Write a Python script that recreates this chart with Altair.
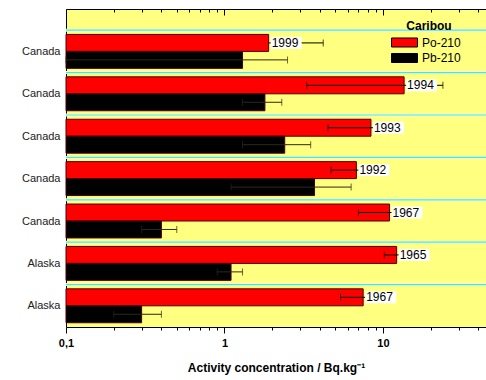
import json
import altair as alt
import pandas as pd

# ---- data (top row first) ----
countries = ["Canada", "Canada", "Canada", "Canada", "Canada", "Alaska", "Alaska"]
years = ["1999", "1994", "1993", "1992", "1967", "1965", "1967"]
po210 = [1.9, 13.6, 8.4, 6.8, 11.0, 12.2, 7.5]
po210_err = [2.3, 10.3, 3.9, 2.1, 4.0, 2.0, 2.1]
pb210 = [1.3, 1.8, 2.4, 3.7, 0.4, 1.1, 0.3]
pb210_err = [1.2, 0.5, 1.1, 2.6, 0.1, 0.2, 0.1]
series = ["Po-210", "Pb-210"]
series_colors = ["#FF0000", "#000000"]
x_domain = [0.1, 44.7]
x_ticks = [0.1, 0.2, 0.3, 0.4, 0.5, 0.6, 0.7, 0.8, 0.9,
           1, 2, 3, 4, 5, 6, 7, 8, 9, 10, 20, 30, 40]
major_ticks = [0.1, 1, 10]

FONT = "Liberation Sans"
W, H = 420, 318
n = len(countries)
HALF = 0.4  # bar thickness in band units

rows, bars, errs = [], [], []
for i in range(n):
    c = (n - 1 - i) + 0.5
    rows.append({"country": countries[i], "year": years[i], "po": po210[i],
                 "yc": c + HALF / 2, "sep": (n - 1 - i) + 1})
    bars.append({"series": series[0], "v": po210[i], "base": x_domain[0],
                 "y": c, "y2": c + HALF})
    bars.append({"series": series[1], "v": pb210[i], "base": x_domain[0],
                 "y": c - HALF, "y2": c})
    for s, v, e, yy, col in [(series[0], po210[i], po210_err[i], c + HALF / 2, "#000000"),
                             (series[1], pb210[i], pb210_err[i], c - HALF / 2, "#2A2A18")]:
        lo = v - e
        hi = v + e
        errs.append({"series": s, "v": v, "lo": lo if lo > 0 else v, "hi": hi,
                     "haslo": lo > 0, "y": yy, "col": col})

rows_df = pd.DataFrame(rows)
bars_df = pd.DataFrame(bars)
errs_df = pd.DataFrame(errs)

xscale = alt.Scale(type="log", domain=x_domain, nice=False)
yscale = alt.Scale(domain=[0, n + 0.5], nice=False, zero=False)

major_test = "indexof(" + json.dumps(major_ticks) + ", datum.value) >= 0"
tick_size = {"condition": {"test": major_test, "value": 6}, "value": 3}

bottom_axis = alt.Axis(
    orient="bottom", values=x_ticks, tickSize=tick_size, tickColor="black",
    domainColor="black", grid=False,
    labelExpr=major_test + " ? replace(toString(datum.value), '.', ',') : ''",
    labelFont=FONT, labelFontWeight="bold", labelFontSize=11, labelColor="black",
    labelPadding=4, labelOverlap=False, labelFlush=False,
    title="Activity concentration / Bq.kg⁻¹", titleFont=FONT, titleFontWeight="bold",
    titleFontSize=12, titleColor="black", titlePadding=14)
top_axis = alt.Axis(
    orient="bottom", offset=-H, values=x_ticks, tickSize=tick_size, tickColor="black",
    domainColor="black", grid=False, labels=False, title=None)

y_labels = json.dumps(list(reversed(countries)))
y_axis = alt.Axis(orient="left", values=[k + 0.5 for k in range(n)], ticks=False,
                  grid=False, domainColor="black", domainWidth=1,
                  labelExpr=y_labels + "[round(datum.value - 0.5)]",
                  labelFont=FONT, labelFontSize=11, labelColor="#222222",
                  labelPadding=6, title=None)


def Y(field):
    return alt.Y(field, type="quantitative", scale=yscale, axis=y_axis)


seps_halo = alt.Chart(rows_df).mark_rule(color="#FFFFD8", strokeWidth=3).encode(
    y=Y("sep"), x=alt.value(0), x2=alt.value(W))
seps = alt.Chart(rows_df).mark_rule(color="#30F0E0", strokeWidth=1.2).encode(
    y=Y("sep"), x=alt.value(0), x2=alt.value(W))

bar_layer = alt.Chart(bars_df).mark_rect(stroke="#4A0000", strokeWidth=1).encode(
    x=alt.X("v:Q", scale=xscale, axis=bottom_axis),
    x2="base:Q",
    y=Y("y"),
    y2="y2:Q",
    color=alt.Color("series:N",
                    scale=alt.Scale(domain=series, range=series_colors),
                    sort=series,
                    legend=alt.Legend(
                        orient="none", legendX=331, legendY=12, title="Caribou",
                        titleFont=FONT, titleFontWeight="bold", titleFontSize=12,
                        titleColor="black", titleAnchor="middle", titlePadding=2,
                        labelFont=FONT, labelFontSize=12, labelColor="black",
                        labelOffset=10,
                        symbolType="M-1.857,-0.643L1.857,-0.643L1.857,0.643L-1.857,0.643Z",
                        symbolSize=196, symbolStrokeColor="black",
                        symbolStrokeWidth=1, symbolOpacity=1, rowPadding=0.5)))

err_rule = alt.Chart(errs_df).mark_rule(strokeWidth=1).encode(
    x=alt.X("lo:Q", scale=xscale, axis=top_axis),
    x2="hi:Q",
    y=Y("y"),
    color=alt.Color("col:N", scale=None))
cap_hi = alt.Chart(errs_df).mark_tick(orient="vertical", size=7, thickness=1).encode(
    x=alt.X("hi:Q", scale=xscale, axis=None),
    y=Y("y"),
    color=alt.Color("col:N", scale=None))
cap_lo = alt.Chart(errs_df).transform_filter("datum.haslo").mark_tick(
    orient="vertical", size=7, thickness=1).encode(
    x=alt.X("lo:Q", scale=xscale, axis=None),
    y=Y("y"),
    color=alt.Color("col:N", scale=None))

label_box = alt.Chart(rows_df).mark_rect(
    color="white", xOffset=2, x2Offset=33, yOffset=-6, y2Offset=6).encode(
    x=alt.X("po:Q", scale=xscale, axis=None), x2="po:Q",
    y=Y("yc"), y2="yc:Q")
label_text = alt.Chart(rows_df).mark_text(
    align="left", baseline="middle", dx=3, font=FONT, fontSize=12, color="black").encode(
    x=alt.X("po:Q", scale=xscale, axis=None),
    y=Y("yc"),
    text="year:N")

chart = alt.layer(seps_halo, seps, bar_layer, err_rule, cap_hi, cap_lo, label_box,
                  label_text).resolve_axis(
    x="independent").resolve_scale(color="independent").properties(
    width=W, height=H,
    autosize=alt.AutoSizeParams(type="none"),
    padding={"left": 66, "top": 9, "right": 0, "bottom": 53},
    background="white",
).configure_view(fill="#FFFF80", stroke=None)

chart.save("out.html", embed_options={"renderer": "svg", "actions": False})
